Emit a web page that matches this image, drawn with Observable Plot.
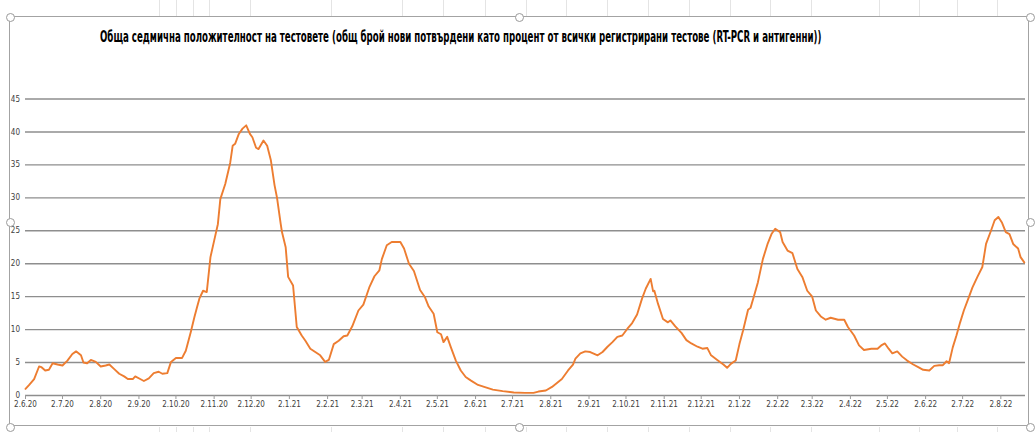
<!DOCTYPE html>
<html><head><meta charset="utf-8">
<script src="https://cdn.jsdelivr.net/npm/d3@7"></script>
<script src="https://cdn.jsdelivr.net/npm/@observablehq/plot@0.6"></script>
<style>
body{margin:0;background:#fff;}
#wrap{position:relative;width:1035px;height:432px;overflow:hidden;background:#fff;}
#cells{position:absolute;left:0;top:0;width:1035px;height:432px;}
.cell{position:absolute;width:1px;background:#e4e4e4;}
#frame{position:absolute;left:9px;top:16px;width:1020px;height:410px;border:1.5px solid #a3a3a3;box-sizing:border-box;background:#fff;}
.h{position:absolute;width:9px;height:9px;border-radius:50%;background:#fff;border:1.3px solid #9a9a9a;box-sizing:border-box;}
#title{position:absolute;left:0;top:0;}
#chart{position:absolute;left:0;top:60px;}
</style></head><body>
<div id="wrap">
  <div id="cells"></div>
  <div id="frame"></div>
  <svg id="title" width="1035" height="60"></svg>
  <div id="chart"></div>
  <div id="handles"></div>
</div>
<script>
const chartTitle = "Обща седмична положителност на тестовете (общ брой нови потвърдени като процент от всички регистрирани тестове (RT-PCR и антигенни))";
const startDate = "2020-06-02";
const endDate = "2022-08-22";
// days after startDate
const dayOffsets = [0,3,7,11,13,16,19,22,26,30,34,38,41,45,47,50,53,57,61,65,68,72,76,80,83,87,89,93,96,100,104,108,111,115,118,122,127,130,134,137,139,141,144,147,150,153,156,158,162,166,168,170,173,176,179,182,184,187,189,193,196,199,202,204,207,208,211,213,217,220,224,227,231,235,239,243,246,250,254,258,261,265,270,274,279,283,287,289,293,297,300,304,307,311,315,320,324,327,331,334,337,339,342,345,349,353,357,361,367,372,379,387,396,405,412,416,422,427,431,435,440,444,446,450,454,458,464,468,472,476,480,484,488,492,496,500,503,507,509,510,513,517,521,523,527,532,536,540,545,549,553,556,561,566,569,572,576,579,582,586,588,591,594,598,602,605,608,612,614,618,622,626,630,634,638,641,645,649,653,659,664,667,672,676,680,686,691,694,697,700,703,707,711,715,720,724,728,733,737,741,744,747,749,752,755,758,761,765,768,772,776,779,783,786,789,792,795,798,801,805,807,810];
const positivity = [1.0,1.6,2.5,4.4,4.3,3.8,3.9,4.9,4.7,4.55,5.3,6.3,6.7,6.1,5.0,4.9,5.4,5.1,4.4,4.55,4.7,4.0,3.3,2.9,2.5,2.5,2.9,2.5,2.2,2.6,3.4,3.6,3.3,3.4,5.1,5.7,5.7,6.8,9.6,11.9,13.3,14.7,15.9,15.7,21.0,23.5,26.0,29.8,32.1,35.3,37.9,38.2,39.7,40.5,41.0,39.7,39.2,37.6,37.4,38.7,37.9,35.7,31.9,30.0,26.0,24.8,22.5,18.0,16.7,10.4,9.1,8.3,7.1,6.6,6.1,5.1,5.4,7.8,8.3,9.0,9.1,10.5,12.9,13.8,16.5,18.1,19.0,20.7,22.8,23.3,23.3,23.3,22.3,20.0,18.9,16.0,14.9,13.5,12.4,9.6,9.3,8.1,8.9,7.3,5.3,3.8,2.8,2.3,1.6,1.3,0.9,0.66,0.46,0.4,0.4,0.6,0.76,1.3,1.9,2.5,3.8,4.7,5.6,6.4,6.7,6.6,6.1,6.6,7.4,8.1,8.9,9.1,10.1,11.0,12.3,14.7,16.2,17.7,15.8,15.9,13.9,11.6,11.1,11.4,10.5,9.5,8.4,7.9,7.4,7.1,7.2,6.1,5.4,4.7,4.2,4.8,5.3,7.8,9.9,13.0,13.3,15.2,17.2,20.7,23.1,24.5,25.3,24.8,23.3,22.0,21.6,19.2,18.0,15.9,15.0,12.9,12.0,11.5,11.8,11.5,11.5,10.4,9.1,7.6,6.9,7.1,7.1,7.6,7.9,7.1,6.4,6.7,5.9,5.3,4.7,4.3,3.9,3.8,4.5,4.6,4.6,5.2,4.9,7.3,9.1,11.1,12.9,14.9,16.4,18.0,19.5,23.0,25.0,26.6,27.1,26.2,24.8,24.5,23.0,22.3,21.0,20.2];
const xTickLabels = ["2.6.20","2.7.20","2.8.20","2.9.20","2.10.20","2.11.20","2.12.20","2.1.21","2.2.21","2.3.21","2.4.21","2.5.21","2.6.21","2.7.21","2.8.21","2.9.21","2.10.21","2.11.21","2.12.21","2.1.22","2.2.22","2.3.22","2.4.22","2.5.22","2.6.22","2.7.22","2.8.22"];
const yTicks = [0,5,10,15,20,25,30,35,40,45];

const font = "'Liberation Sans Narrow','DejaVu Sans Condensed','Roboto Condensed',sans-serif";
const parseTick = d3.utcParse("%-d.%-m.%y");
const tickDates = xTickLabels.map(parseTick);
const start = new Date(startDate);
const data = dayOffsets.map((d, i) => ({date: d3.utcDay.offset(start, d), value: positivity[i]}));

// background spreadsheet cell lines
const cellX = [159,176,193,209,250,331,402,443,485,526,566,607,648,689,730,770,811,879,919,957,997];
const cells = document.getElementById("cells");
for (const x of cellX) {
  for (const [t, h] of [[0, 16], [427, 5]]) {
    const c = document.createElement("div");
    c.className = "cell"; c.style.left = x + "px"; c.style.top = t + "px"; c.style.height = h + "px";
    cells.appendChild(c);
  }
}

// title: tall condensed bold, squeezed horizontally to the reference width
const tsvg = d3.select("#title");
const tg = tsvg.append("g");
const tt = tg.append("text")
  .attr("x", 0).attr("y", 0)
  .attr("font-family", font).attr("font-weight", "bold").attr("font-size", 15)
  .attr("fill", "#000")
  .text(chartTitle);
const natural = tt.node().getComputedTextLength();
const sx = natural > 0 ? Math.min(1, 722 / natural) : 1;
tg.attr("transform", `translate(100,41.5) scale(${sx},1)`);

const chart = Plot.plot({
  width: 1035,
  height: 355,
  marginLeft: 25,
  marginRight: 10,
  marginTop: 38.5,
  marginBottom: 20,
  style: {fontFamily: font, fontSize: "8px", color: "#595959", background: "transparent"},
  x: {type: "utc", domain: [start, new Date(endDate)], label: null},
  y: {domain: [0, 45], label: null},
  marks: [
    Plot.gridY(yTicks, {stroke: "#8e8e8e", strokeOpacity: 1, strokeWidth: 1.4}),
    Plot.axisY(yTicks, {tickSize: 0, tickPadding: 5.5, fill: "#404040", label: null}),
    Plot.axisX(tickDates, {tickSize: 4, tickPadding: 2, stroke: "#9a9a9a", fill: "#404040",
      tickFormat: d3.utcFormat("%-d.%-m.%y"), label: null}),
    Plot.lineY(data, {x: "date", y: "value", stroke: "#ED7D31", strokeWidth: 1.9, curve: "linear"})
  ]
});
document.getElementById("chart").appendChild(chart);

// selection handles
const hs = document.getElementById("handles");
for (const [x, y] of [[10,17],[519,17],[1030,17],[10,222],[1030,222],[10,427],[519,427],[1030,427]]) {
  const h = document.createElement("div");
  h.className = "h"; h.style.left = (x - 4.5) + "px"; h.style.top = (y - 4.5) + "px";
  hs.appendChild(h);
}
</script>
</body></html>
